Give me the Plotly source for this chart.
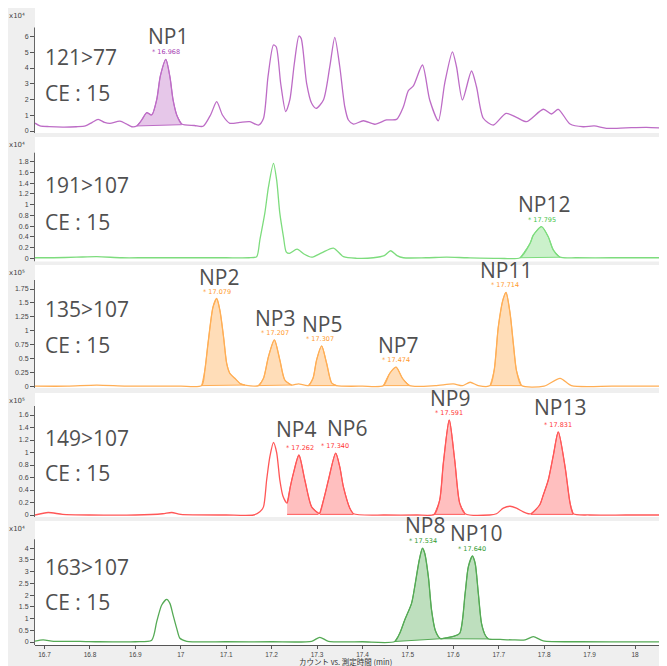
import plotly.graph_objects as go

# ---------------- data (intensity in units of the axis multiplier) ----------------
transitions = ["121>77", "191>107", "135>107", "149>107", "163>107"]
ce_label = "CE : 15"
exponent_labels = ["x10⁴", "x10⁴", "x10⁵", "x10⁵", "x10⁴"]

t1 = [16.679, 16.690, 16.710, 16.740, 16.770, 16.790, 16.805, 16.818, 16.832, 16.844,
      16.866, 16.880, 16.892, 16.903, 16.914, 16.925, 16.936, 16.947, 16.955, 16.967,
      16.976, 16.983, 16.991, 17.002, 17.030, 17.049, 17.066, 17.079, 17.092, 17.108,
      17.130, 17.152, 17.171, 17.182, 17.192, 17.204, 17.210, 17.220, 17.231, 17.240,
      17.250, 17.260, 17.265, 17.277, 17.288, 17.298, 17.314, 17.328, 17.339, 17.350,
      17.361, 17.369, 17.380, 17.402, 17.427, 17.453, 17.475, 17.490, 17.501, 17.512,
      17.532, 17.548, 17.567, 17.581, 17.598, 17.607, 17.620, 17.640, 17.651, 17.666,
      17.688, 17.716, 17.739, 17.761, 17.798, 17.816, 17.831, 17.857, 17.886, 17.910,
      17.937, 17.980, 18.025, 18.066]
v1 = [0.50, 0.33, 0.28, 0.25, 0.27, 0.32, 0.55, 0.74, 0.55, 0.49,
      0.63, 0.45, 0.27, 0.32, 0.70, 1.16, 1.02, 2.00, 3.50, 4.55,
      3.45, 1.97, 1.02, 0.44, 0.35, 0.30, 1.05, 1.86, 1.00, 0.49,
      0.55, 0.59, 0.38, 0.80, 3.45, 5.46, 5.35, 3.00, 1.23, 1.97,
      4.30, 6.03, 5.88, 3.03, 1.76, 1.44, 1.97, 4.08, 5.95, 4.08,
      1.54, 0.70, 0.44, 0.65, 0.43, 0.70, 0.74, 1.54, 2.56, 2.86,
      4.19, 1.97, 0.65, 3.03, 5.03, 4.08, 1.97, 3.81, 2.81, 0.81,
      0.38, 1.12, 0.87, 0.59, 1.38, 1.08, 1.38, 0.44, 0.27, 0.32,
      0.17, 0.20, 0.23, 0.17]

t2 = [16.679, 16.720, 16.770, 16.815, 16.870, 16.920, 16.960, 17.000, 17.050, 17.100,
      17.150, 17.167, 17.174, 17.185, 17.193, 17.204, 17.211, 17.218, 17.226, 17.232,
      17.239, 17.256, 17.271, 17.288, 17.310, 17.336, 17.358, 17.387, 17.424, 17.448,
      17.462, 17.476, 17.490, 17.540, 17.585, 17.630, 17.700, 17.747, 17.769, 17.776,
      17.794, 17.809, 17.820, 17.835, 17.870, 17.950, 18.066]
v2 = [0.01, 0.01, 0.02, 0.03, 0.01, 0.01, 0.01, 0.01, 0.01, 0.01,
      0.01, 0.03, 0.34, 0.84, 1.33, 1.77, 1.46, 0.84, 0.40, 0.12,
      0.09, 0.17, 0.08, 0.02, 0.10, 0.19, 0.03, 0.00, 0.01, 0.05,
      0.14, 0.05, 0.01, 0.01, 0.02, 0.01, 0.00, 0.01, 0.28, 0.43,
      0.59, 0.40, 0.155, 0.02, 0.01, 0.01, 0.01]

t3 = [16.679, 16.750, 16.815, 16.880, 16.950, 17.000, 17.046, 17.053, 17.060, 17.071,
      17.079, 17.086, 17.094, 17.101, 17.108, 17.119, 17.132, 17.141, 17.171, 17.182,
      17.193, 17.206, 17.218, 17.229, 17.244, 17.259, 17.281, 17.291, 17.299, 17.310,
      17.321, 17.332, 17.343, 17.400, 17.446, 17.460, 17.474, 17.488, 17.504, 17.560,
      17.600, 17.620, 17.637, 17.655, 17.681, 17.690, 17.699, 17.709, 17.716, 17.725,
      17.732, 17.739, 17.750, 17.800, 17.835, 17.860, 17.950, 18.066]
v3 = [0.01, 0.01, 0.03, 0.01, 0.01, 0.01, 0.02, 0.30, 0.78, 1.43,
      1.58, 1.37, 0.90, 0.42, 0.24, 0.15, 0.05, 0.03, 0.02, 0.15,
      0.54, 0.84, 0.48, 0.12, 0.03, 0.05, 0.02, 0.15, 0.48, 0.73,
      0.42, 0.07, 0.02, 0.01, 0.02, 0.24, 0.35, 0.15, 0.02, 0.02,
      0.05, 0.02, 0.08, 0.02, 0.02, 0.30, 1.07, 1.55, 1.69, 1.31,
      0.78, 0.29, 0.02, 0.01, 0.15, 0.02, 0.01, 0.01]

t4 = [16.679, 16.708, 16.740, 16.800, 16.900, 16.960, 16.980, 17.000, 17.100, 17.160,
      17.174, 17.182, 17.189, 17.196, 17.204, 17.211, 17.218, 17.225, 17.234, 17.241,
      17.248, 17.260, 17.273, 17.288, 17.303, 17.306, 17.318, 17.325, 17.341, 17.350,
      17.358, 17.372, 17.380, 17.450, 17.520, 17.558, 17.570, 17.578, 17.591, 17.603,
      17.614, 17.626, 17.680, 17.695, 17.710, 17.725, 17.739, 17.754, 17.765, 17.771,
      17.790, 17.798, 17.809, 17.820, 17.831, 17.846, 17.857, 17.864, 17.900, 17.980,
      18.066]
v4 = [0.00, 0.04, 0.01, 0.00, 0.00, 0.02, 0.04, 0.01, 0.00, 0.00,
      0.05, 0.13, 0.56, 0.93, 1.16, 1.00, 0.56, 0.30, 0.19, 0.45,
      0.67, 0.96, 0.56, 0.13, 0.03, 0.03, 0.35, 0.56, 0.99, 0.77,
      0.45, 0.11, 0.02, 0.00, 0.00, 0.01, 0.24, 0.83, 1.52, 0.88,
      0.19, 0.02, 0.00, 0.02, 0.11, 0.14, 0.11, 0.05, 0.02, 0.02,
      0.16, 0.32, 0.56, 0.95, 1.33, 0.77, 0.19, 0.02, 0.00, 0.00,
      0.00]

t5 = [16.679, 16.697, 16.720, 16.778, 16.820, 16.900, 16.936, 16.947, 16.958, 16.969,
      16.976, 16.983, 16.991, 16.998, 17.013, 17.100, 17.200, 17.288, 17.306, 17.325,
      17.400, 17.471, 17.482, 17.493, 17.508, 17.515, 17.525, 17.532, 17.537, 17.545,
      17.552, 17.560, 17.567, 17.572, 17.585, 17.600, 17.614, 17.626, 17.633, 17.642,
      17.648, 17.655, 17.662, 17.670, 17.677, 17.703, 17.730, 17.758, 17.776, 17.798,
      17.880, 18.066]
v5 = [0.04, 0.09, 0.03, 0.03, 0.01, 0.01, 0.08, 0.87, 1.58, 1.82,
      1.65, 1.15, 0.58, 0.16, 0.03, 0.01, 0.01, 0.03, 0.20, 0.03,
      0.01, 0.02, 0.37, 0.94, 1.65, 2.36, 3.50, 4.00, 3.79, 2.79,
      1.37, 0.51, 0.23, 0.14, 0.18, 0.24, 0.37, 2.08, 3.21, 3.67,
      3.36, 2.08, 0.80, 0.30, 0.13, 0.11, 0.09, 0.09, 0.23, 0.05,
      0.01, 0.01]

# integrated peaks per panel: names, RT labels, windows (start, end), baseline levels
peak_names = [["NP1"], ["NP12"], ["NP2", "NP3", "NP5", "NP7", "NP11"],
              ["NP4", "NP6", "NP9", "NP13"], ["NP8", "NP10"]]
peak_rts = [["16.968"], ["17.795"], ["17.079", "17.207", "17.307", "17.474", "17.714"],
            ["17.262", "17.340", "17.591", "17.831"], ["17.534", "17.640"]]
peak_windows = [[(16.903, 17.002)], [(17.747, 17.835)],
                [(17.046, 17.141), (17.171, 17.244), (17.281, 17.343), (17.446, 17.504), (17.681, 17.750)],
                [(17.234, 17.303), (17.306, 17.380), (17.558, 17.626), (17.771, 17.864)],
                [(17.471, 17.572), (17.572, 17.677)]]
peak_bases = [[(0.32, 0.40)], [(0.01, 0.02)],
              [(0.02, 0.03), (0.02, 0.03), (0.02, 0.02), (0.02, 0.02), (0.02, 0.02)],
              [(0.01, 0.01), (0.01, 0.01), (0.01, 0.01), (0.01, 0.01)],
              [(0.02, 0.14), (0.14, 0.13)]]

y_ticks = [[0, 1, 2, 3, 4, 5, 6],
           [0, 0.2, 0.4, 0.6, 0.8, 1, 1.2, 1.4, 1.6, 1.8],
           [0, 0.25, 0.5, 0.75, 1, 1.25, 1.5, 1.75],
           [0, 0.2, 0.4, 0.6, 0.8, 1, 1.2, 1.4, 1.6],
           [0, 0.5, 1, 1.5, 2, 2.5, 3, 3.5, 4]]
x_ticks = [16.7, 16.8, 16.9, 17.0, 17.1, 17.2, 17.3, 17.4, 17.5, 17.6, 17.7, 17.8, 17.9, 18.0]
x_ticktext = ["16.7", "16.8", "16.9", "17", "17.1", "17.2", "17.3", "17.4", "17.5",
              "17.6", "17.7", "17.8", "17.9", "18"]
x_title = "カウント vs. 測定時間 (min)"

times = [t1, t2, t3, t4, t5]
values = [v1, v2, v3, v4, v5]

# ---------------- style / layout ----------------
# The page body has an 8px margin, so the figure is 8px smaller than the window.
OFF = 8
W, H = 667 - OFF, 666 - OFF
PLOT_L, PLOT_R, PLOT_T, PLOT_B = 35, 665, 8, 645      # window pixels of the plot block
ML, MR, MT, MB = PLOT_L - OFF, 667 - PLOT_R, PLOT_T - OFF, 666 - PLOT_B
PW, PH = PLOT_R - PLOT_L, PLOT_B - PLOT_T


def py(p):
    return (PLOT_B - p) / PH


def px(p):
    return (p - PLOT_L) / PW


panel_px = [(8, 133), (137, 261.5), (265, 388), (393, 517), (521, 645)]
y_ranges = [(-0.127, 7.81), (-0.06, 2.26), (-0.023, 2.18), (-0.032, 1.952), (-0.128, 5.164)]
label_offsets = [(49, 85), (48, 85), (44, 80), (45, 80), (46, 81)]
line_colors = ["#bd6cc6", "#7ddc7d", "#ffae55", "#ff5757", "#55aa55"]
fill_colors = ["rgba(189,108,198,0.38)", "rgba(125,220,125,0.40)", "rgba(255,174,85,0.42)",
               "rgba(255,87,87,0.38)", "rgba(85,170,85,0.38)"]
rt_colors = ["#a53db3", "#44c444", "#ff9a2e", "#ff3333", "#2f9a2f"]
np_shift = {"NP1": (1.5, 23), "NP12": (2, 23), "NP2": (2.5, 22), "NP3": (0, 22),
            "NP5": (1.6, 22), "NP7": (2.3, 22), "NP11": (0.7, 22), "NP4": (-4, 26),
            "NP6": (12, 25), "NP9": (0.7, 22), "NP13": (1.7, 25), "NP8": (1.6, 23),
            "NP10": (4, 23)}
TEXT = "#505050"
FONT = "Open Sans"
SMOOTH = 0.7

fig = go.Figure()
layout = {}
shapes = []
annotations = []

for i in range(5):
    n = i + 1
    xref = "x" if n == 1 else f"x{n}"
    yref = "y" if n == 1 else f"y{n}"
    xname = "xaxis" if n == 1 else f"xaxis{n}"
    yname = "yaxis" if n == 1 else f"yaxis{n}"
    top, bot = panel_px[i]
    T, V = times[i], values[i]
    lc, fc = line_colors[i], fill_colors[i]

    # filled integrated peaks
    for name, rt, (s, e), (bs, be) in zip(peak_names[i], peak_rts[i], peak_windows[i], peak_bases[i]):
        st = [t for t in T if s - 1e-9 <= t <= e + 1e-9]
        sv = [v for t, v in zip(T, V) if s - 1e-9 <= t <= e + 1e-9]
        fig.add_trace(go.Scatter(x=[s, e], y=[bs, be], mode="lines",
                                 line=dict(color=lc, width=1), xaxis=xref, yaxis=yref,
                                 hoverinfo="skip", showlegend=False))
        fig.add_trace(go.Scatter(x=st, y=sv, mode="lines", fill="tonexty", fillcolor=fc,
                                 line=dict(color=lc, width=1, shape="spline", smoothing=SMOOTH),
                                 xaxis=xref, yaxis=yref, hoverinfo="skip", showlegend=False))
        apex = max(sv)
        dx, dy = np_shift[name]
        annotations.append(dict(x=float(rt), y=apex, xref=xref, yref=yref, text=name,
                                showarrow=False, xanchor="center", yanchor="middle",
                                xshift=dx, yshift=dy,
                                font=dict(family=FONT, size=21, color=TEXT)))
        annotations.append(dict(x=float(rt), y=apex, xref=xref, yref=yref, text="* " + rt,
                                showarrow=False, xanchor="center", yanchor="middle",
                                yshift=7, font=dict(family="DejaVu Sans", size=6.5, color=rt_colors[i])))

    # main trace
    fig.add_trace(go.Scatter(x=T, y=V, mode="lines",
                             line=dict(color=lc, width=1.3, shape="spline", smoothing=SMOOTH),
                             xaxis=xref, yaxis=yref, hoverinfo="skip", showlegend=False))

    layout[xname] = dict(domain=[0, 1], range=[16.679, 18.066], anchor=yref,
                         showgrid=False, zeroline=False,
                         showticklabels=(n == 5), ticks="outside" if n == 5 else "",
                         tickvals=x_ticks, ticktext=x_ticktext, ticklen=3,
                         tickcolor="#555", showline=(n == 5), linecolor="#555", linewidth=1,
                         tickfont=dict(family="Liberation Sans", size=6.5, color="#444"))
    if n != 5:
        layout[xname]["matches"] = "x5"
    layout[yname] = dict(domain=[py(bot), py(top)], range=list(y_ranges[i]), anchor=xref,
                         tickvals=y_ticks[i], ticktext=[f"{v:g}" for v in y_ticks[i]],
                         ticks="outside", ticklen=4, tickcolor="#555",
                         tickfont=dict(family="Liberation Sans", size=7, color="#444"),
                         showgrid=False, zeroline=False, showline=False)

    # y axis line (stops a little above the top tick)
    ppu = (bot - top) / (y_ranges[i][1] - y_ranges[i][0])
    shapes.append(dict(type="line", xref="paper", yref=yref, x0=px(34.5), x1=px(34.5),
                       y0=y_ranges[i][0], y1=y_ticks[i][-1] + 9 / ppu,
                       line=dict(color="#666", width=1)))

    # exponent label
    annotations.append(dict(x=px(17), y=py(top + 8), xref="paper", yref="paper",
                            text=exponent_labels[i], showarrow=False,
                            xanchor="center", yanchor="middle",
                            font=dict(family="DejaVu Sans", size=7, color="#444")))
    # transition labels
    o1, o2 = label_offsets[i]
    annotations.append(dict(x=px(43), y=py(top + o1), xref="paper", yref="paper",
                            text=transitions[i], showarrow=False, xanchor="left",
                            yanchor="middle", font=dict(family=FONT, size=21, color=TEXT)))
    annotations.append(dict(x=px(43), y=py(top + o2), xref="paper", yref="paper",
                            text=ce_label, showarrow=False, xanchor="left",
                            yanchor="middle", font=dict(family=FONT, size=21, color=TEXT)))

# x axis title
annotations.append(dict(x=px(345), y=py(661), xref="paper", yref="paper", text=x_title,
                        showarrow=False, xanchor="center", yanchor="middle",
                        font=dict(family="Noto Sans CJK JP", size=7.5, color="#333")))

fig.update_layout(width=W, height=H, margin=dict(l=ML, r=MR, t=MT, b=MB, autoexpand=False),
                  paper_bgcolor="#efefef", plot_bgcolor="white", showlegend=False,
                  shapes=shapes, annotations=annotations, **layout)

fig.write_html("out.html")
